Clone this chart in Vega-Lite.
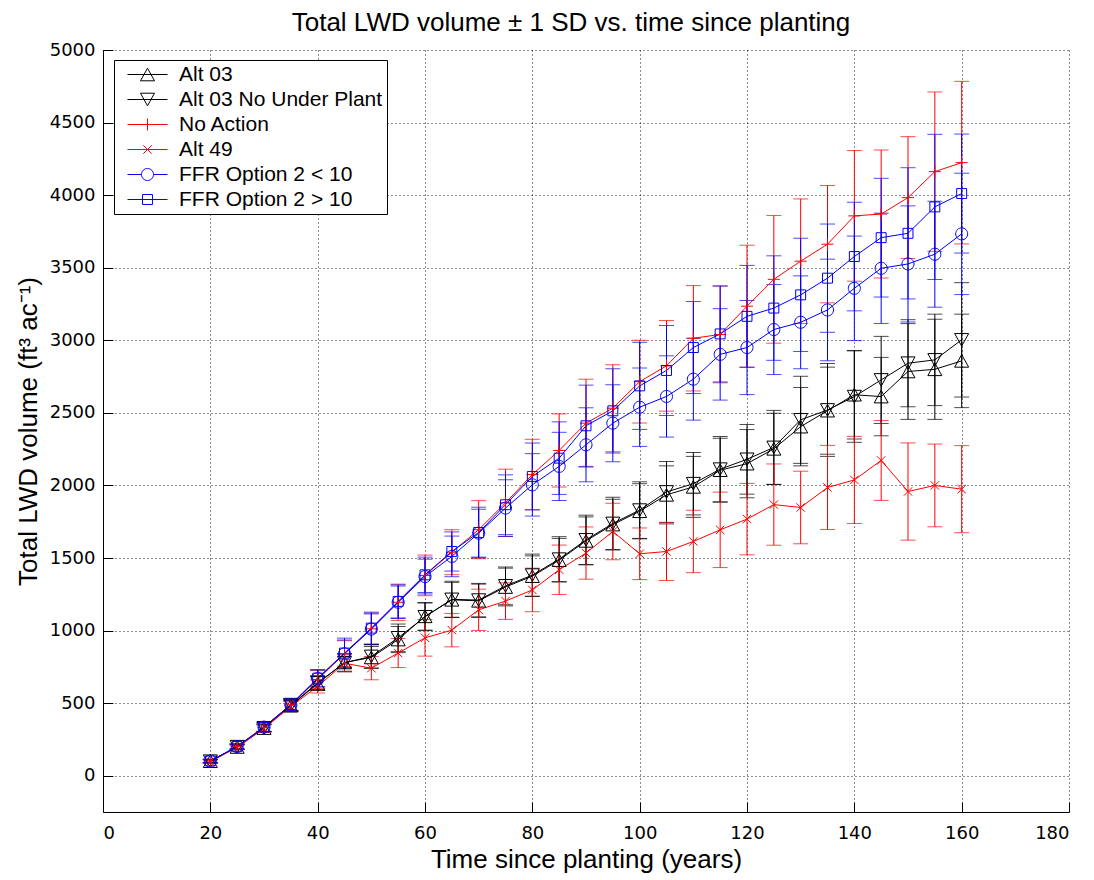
{
  "$schema": "https://vega.github.io/schema/vega-lite/v6.json",
  "width": 966,
  "height": 762,
  "autosize": "none",
  "padding": {"left": 103, "top": 50, "right": 25, "bottom": 68},
  "background": "white",
  "title": {"text": "Total LWD volume ± 1 SD vs. time since planting", "font": "Liberation Sans", "fontSize": 26, "fontWeight": "normal", "color": "black", "offset": 5, "dx": -15},
  "config": {
    "font": "Liberation Sans",
    "view": {"stroke": null},
    "axis": {
      "domainColor": "black", "domainWidth": 1,
      "tickColor": "black", "tickSize": -10, "tickWidth": 1,
      "labelFont": "DejaVu Sans", "labelFontSize": 18, "labelColor": "black",
      "titleFont": "Liberation Sans", "titleFontSize": 26, "titleFontWeight": "normal", "titleColor": "black",
      "grid": true, "gridColor": "black", "gridDash": [1, 3], "gridOpacity": 0.9, "gridWidth": 1
    },
    "legend": {"orient": "none", "legendX": 11, "legendY": 10, "title": null,
        "strokeColor": "black", "fillColor": "white", "padding": 4, "cornerRadius": 0,
        "labelFont": "Liberation Sans", "labelFontSize": 21, "labelColor": "black", "labelLimit": 0,
        "symbolSize": 196, "symbolStrokeWidth": 1, "symbolOpacity": 1,
        "rowPadding": 3, "labelOffset": 21, "symbolOffset": 19}
  },
  "data": {"values": [
    {"s":"Alt 03","x":20,"v":100,"sd":12},{"s":"Alt 03","x":25,"v":198,"sd":16},{"s":"Alt 03","x":30,"v":328,"sd":25},{"s":"Alt 03","x":35,"v":482,"sd":35},{"s":"Alt 03","x":40,"v":635,"sd":48},{"s":"Alt 03","x":45,"v":780,"sd":60},{"s":"Alt 03","x":50,"v":815,"sd":75},{"s":"Alt 03","x":55,"v":938,"sd":90},{"s":"Alt 03","x":60,"v":1098,"sd":95},{"s":"Alt 03","x":65,"v":1212,"sd":120},{"s":"Alt 03","x":70,"v":1205,"sd":115},{"s":"Alt 03","x":75,"v":1300,"sd":130},{"s":"Alt 03","x":80,"v":1375,"sd":140},{"s":"Alt 03","x":85,"v":1485,"sd":150},{"s":"Alt 03","x":90,"v":1618,"sd":165},{"s":"Alt 03","x":95,"v":1730,"sd":175},{"s":"Alt 03","x":100,"v":1822,"sd":190},{"s":"Alt 03","x":105,"v":1935,"sd":200},{"s":"Alt 03","x":110,"v":1990,"sd":210},{"s":"Alt 03","x":115,"v":2105,"sd":220},{"s":"Alt 03","x":120,"v":2150,"sd":235},{"s":"Alt 03","x":125,"v":2252,"sd":245},{"s":"Alt 03","x":130,"v":2405,"sd":270},{"s":"Alt 03","x":135,"v":2515,"sd":300},{"s":"Alt 03","x":140,"v":2625,"sd":305},{"s":"Alt 03","x":145,"v":2612,"sd":270},{"s":"Alt 03","x":150,"v":2785,"sd":330},{"s":"Alt 03","x":155,"v":2800,"sd":345},{"s":"Alt 03","x":160,"v":2858,"sd":322},
    {"s":"Alt 03 No Under Plant","x":20,"v":100,"sd":12},{"s":"Alt 03 No Under Plant","x":25,"v":200,"sd":16},{"s":"Alt 03 No Under Plant","x":30,"v":330,"sd":25},{"s":"Alt 03 No Under Plant","x":35,"v":485,"sd":36},{"s":"Alt 03 No Under Plant","x":40,"v":640,"sd":50},{"s":"Alt 03 No Under Plant","x":45,"v":778,"sd":62},{"s":"Alt 03 No Under Plant","x":50,"v":822,"sd":80},{"s":"Alt 03 No Under Plant","x":55,"v":950,"sd":95},{"s":"Alt 03 No Under Plant","x":60,"v":1095,"sd":95},{"s":"Alt 03 No Under Plant","x":65,"v":1215,"sd":125},{"s":"Alt 03 No Under Plant","x":70,"v":1210,"sd":115},{"s":"Alt 03 No Under Plant","x":75,"v":1308,"sd":130},{"s":"Alt 03 No Under Plant","x":80,"v":1382,"sd":145},{"s":"Alt 03 No Under Plant","x":85,"v":1492,"sd":155},{"s":"Alt 03 No Under Plant","x":90,"v":1625,"sd":170},{"s":"Alt 03 No Under Plant","x":95,"v":1738,"sd":180},{"s":"Alt 03 No Under Plant","x":100,"v":1830,"sd":195},{"s":"Alt 03 No Under Plant","x":105,"v":1955,"sd":210},{"s":"Alt 03 No Under Plant","x":110,"v":2012,"sd":215},{"s":"Alt 03 No Under Plant","x":115,"v":2112,"sd":225},{"s":"Alt 03 No Under Plant","x":120,"v":2180,"sd":240},{"s":"Alt 03 No Under Plant","x":125,"v":2262,"sd":255},{"s":"Alt 03 No Under Plant","x":130,"v":2452,"sd":300},{"s":"Alt 03 No Under Plant","x":135,"v":2520,"sd":320},{"s":"Alt 03 No Under Plant","x":140,"v":2612,"sd":315},{"s":"Alt 03 No Under Plant","x":145,"v":2727,"sd":300},{"s":"Alt 03 No Under Plant","x":150,"v":2842,"sd":300},{"s":"Alt 03 No Under Plant","x":155,"v":2865,"sd":315},{"s":"Alt 03 No Under Plant","x":160,"v":3003,"sd":394},
    {"s":"No Action","x":20,"v":100,"sd":12},{"s":"No Action","x":25,"v":200,"sd":18},{"s":"No Action","x":30,"v":332,"sd":30},{"s":"No Action","x":35,"v":487,"sd":42},{"s":"No Action","x":40,"v":662,"sd":62},{"s":"No Action","x":45,"v":842,"sd":88},{"s":"No Action","x":50,"v":1012,"sd":108},{"s":"No Action","x":55,"v":1195,"sd":125},{"s":"No Action","x":60,"v":1380,"sd":140},{"s":"No Action","x":65,"v":1540,"sd":155},{"s":"No Action","x":70,"v":1695,"sd":200},{"s":"No Action","x":75,"v":1880,"sd":232},{"s":"No Action","x":80,"v":2075,"sd":243},{"s":"No Action","x":85,"v":2241,"sd":252},{"s":"No Action","x":90,"v":2429,"sd":303},{"s":"No Action","x":95,"v":2532,"sd":300},{"s":"No Action","x":100,"v":2715,"sd":285},{"s":"No Action","x":105,"v":2824,"sd":312},{"s":"No Action","x":110,"v":3014,"sd":363},{"s":"No Action","x":115,"v":3040,"sd":333},{"s":"No Action","x":120,"v":3235,"sd":420},{"s":"No Action","x":125,"v":3420,"sd":440},{"s":"No Action","x":130,"v":3545,"sd":429},{"s":"No Action","x":135,"v":3662,"sd":404},{"s":"No Action","x":140,"v":3857,"sd":450},{"s":"No Action","x":145,"v":3870,"sd":441},{"s":"No Action","x":150,"v":3983,"sd":420},{"s":"No Action","x":155,"v":4162,"sd":549},{"s":"No Action","x":160,"v":4224,"sd":560},
    {"s":"Alt 49","x":20,"v":97,"sd":10},{"s":"Alt 49","x":25,"v":195,"sd":15},{"s":"Alt 49","x":30,"v":325,"sd":24},{"s":"Alt 49","x":35,"v":478,"sd":33},{"s":"Alt 49","x":40,"v":615,"sd":45},{"s":"Alt 49","x":45,"v":775,"sd":58},{"s":"Alt 49","x":50,"v":741,"sd":80},{"s":"Alt 49","x":55,"v":845,"sd":100},{"s":"Alt 49","x":60,"v":950,"sd":126},{"s":"Alt 49","x":65,"v":1003,"sd":115},{"s":"Alt 49","x":70,"v":1143,"sd":142},{"s":"Alt 49","x":75,"v":1203,"sd":126},{"s":"Alt 49","x":80,"v":1280,"sd":150},{"s":"Alt 49","x":85,"v":1419,"sd":170},{"s":"Alt 49","x":90,"v":1534,"sd":180},{"s":"Alt 49","x":95,"v":1683,"sd":195},{"s":"Alt 49","x":100,"v":1529,"sd":178},{"s":"Alt 49","x":105,"v":1545,"sd":200},{"s":"Alt 49","x":110,"v":1614,"sd":215},{"s":"Alt 49","x":115,"v":1694,"sd":260},{"s":"Alt 49","x":120,"v":1768,"sd":246},{"s":"Alt 49","x":125,"v":1868,"sd":280},{"s":"Alt 49","x":130,"v":1848,"sd":250},{"s":"Alt 49","x":135,"v":1986,"sd":290},{"s":"Alt 49","x":140,"v":2038,"sd":300},{"s":"Alt 49","x":145,"v":2172,"sd":275},{"s":"Alt 49","x":150,"v":1958,"sd":335},{"s":"Alt 49","x":155,"v":2000,"sd":285},{"s":"Alt 49","x":160,"v":1974,"sd":300},
    {"s":"FFR Option 2 < 10","x":20,"v":100,"sd":12},{"s":"FFR Option 2 < 10","x":25,"v":200,"sd":18},{"s":"FFR Option 2 < 10","x":30,"v":335,"sd":30},{"s":"FFR Option 2 < 10","x":35,"v":488,"sd":42},{"s":"FFR Option 2 < 10","x":40,"v":670,"sd":58},{"s":"FFR Option 2 < 10","x":45,"v":840,"sd":95},{"s":"FFR Option 2 < 10","x":50,"v":1010,"sd":105},{"s":"FFR Option 2 < 10","x":55,"v":1195,"sd":112},{"s":"FFR Option 2 < 10","x":60,"v":1372,"sd":120},{"s":"FFR Option 2 < 10","x":65,"v":1511,"sd":140},{"s":"FFR Option 2 < 10","x":70,"v":1671,"sd":165},{"s":"FFR Option 2 < 10","x":75,"v":1844,"sd":195},{"s":"FFR Option 2 < 10","x":80,"v":2004,"sd":215},{"s":"FFR Option 2 < 10","x":85,"v":2131,"sd":235},{"s":"FFR Option 2 < 10","x":90,"v":2280,"sd":255},{"s":"FFR Option 2 < 10","x":95,"v":2429,"sd":265},{"s":"FFR Option 2 < 10","x":100,"v":2539,"sd":270},{"s":"FFR Option 2 < 10","x":105,"v":2613,"sd":280},{"s":"FFR Option 2 < 10","x":110,"v":2732,"sd":282},{"s":"FFR Option 2 < 10","x":115,"v":2903,"sd":315},{"s":"FFR Option 2 < 10","x":120,"v":2950,"sd":324},{"s":"FFR Option 2 < 10","x":125,"v":3074,"sd":310},{"s":"FFR Option 2 < 10","x":130,"v":3124,"sd":320},{"s":"FFR Option 2 < 10","x":135,"v":3209,"sd":350},{"s":"FFR Option 2 < 10","x":140,"v":3358,"sd":360},{"s":"FFR Option 2 < 10","x":145,"v":3496,"sd":380},{"s":"FFR Option 2 < 10","x":150,"v":3526,"sd":400},{"s":"FFR Option 2 < 10","x":155,"v":3593,"sd":365},{"s":"FFR Option 2 < 10","x":160,"v":3733,"sd":418},
    {"s":"FFR Option 2 > 10","x":20,"v":102,"sd":12},{"s":"FFR Option 2 > 10","x":25,"v":202,"sd":18},{"s":"FFR Option 2 > 10","x":30,"v":336,"sd":30},{"s":"FFR Option 2 > 10","x":35,"v":490,"sd":44},{"s":"FFR Option 2 > 10","x":40,"v":672,"sd":60},{"s":"FFR Option 2 > 10","x":45,"v":845,"sd":103},{"s":"FFR Option 2 > 10","x":50,"v":1017,"sd":110},{"s":"FFR Option 2 > 10","x":55,"v":1201,"sd":114},{"s":"FFR Option 2 > 10","x":60,"v":1384,"sd":122},{"s":"FFR Option 2 > 10","x":65,"v":1545,"sd":135},{"s":"FFR Option 2 > 10","x":70,"v":1676,"sd":174},{"s":"FFR Option 2 > 10","x":75,"v":1867,"sd":206},{"s":"FFR Option 2 > 10","x":80,"v":2062,"sd":230},{"s":"FFR Option 2 > 10","x":85,"v":2188,"sd":250},{"s":"FFR Option 2 > 10","x":90,"v":2411,"sd":280},{"s":"FFR Option 2 > 10","x":95,"v":2514,"sd":290},{"s":"FFR Option 2 > 10","x":100,"v":2686,"sd":300},{"s":"FFR Option 2 > 10","x":105,"v":2792,"sd":310},{"s":"FFR Option 2 > 10","x":110,"v":2950,"sd":317},{"s":"FFR Option 2 > 10","x":115,"v":3044,"sd":331},{"s":"FFR Option 2 > 10","x":120,"v":3165,"sd":351},{"s":"FFR Option 2 > 10","x":125,"v":3222,"sd":360},{"s":"FFR Option 2 > 10","x":130,"v":3313,"sd":390},{"s":"FFR Option 2 > 10","x":135,"v":3428,"sd":373},{"s":"FFR Option 2 > 10","x":140,"v":3577,"sd":374},{"s":"FFR Option 2 > 10","x":145,"v":3707,"sd":409},{"s":"FFR Option 2 > 10","x":150,"v":3737,"sd":452},{"s":"FFR Option 2 > 10","x":155,"v":3919,"sd":500},{"s":"FFR Option 2 > 10","x":160,"v":4011,"sd":410}
  ]},
  "encoding": {
    "x": {"field": "x", "type": "quantitative",
      "scale": {"domain": [0, 180], "nice": false, "zero": false},
      "axis": {"values": [0,20,40,60,80,100,120,140,160,180], "format": "d", "title": "Time since planting (years)", "labelPadding": 22, "titlePadding": 4}},
    "y": {"field": "v", "type": "quantitative",
      "scale": {"domain": [-250, 5000], "nice": false, "zero": false},
      "axis": {"values": [0,500,1000,1500,2000,2500,3000,3500,4000,4500,5000], "format": "d", "title": "Total LWD volume (ft³ ac⁻¹)", "labelPadding": 18, "titlePadding": 8}}
  },
  "layer": [
    {"transform": [{"filter": "false"}],
     "mark": {"type": "point", "filled": false, "strokeWidth": 1},
     "encoding": {
       "color": {"field": "s", "type": "nominal", "title": null,
         "scale": {"domain": ["Alt 03","Alt 03 No Under Plant","No Action","Alt 49","FFR Option 2 < 10","FFR Option 2 > 10"],
                   "range": ["#000000","#000000","#ff0000","#ff0000","#0000ff","#0000ff"]}},
       "shape": {"field": "s", "type": "nominal", "title": null,
         "scale": {"domain": ["Alt 03","Alt 03 No Under Plant","No Action","Alt 49","FFR Option 2 < 10","FFR Option 2 > 10"],
                   "range": ["M-2.86,0L2.86,0M0,-0.9L1,0.9L-1,0.9Z","M-2.86,0L2.86,0M0,0.9L1,-0.9L-1,-0.9Z","M-2.86,0L2.86,0M0,-0.86L0,0.86","M-2.86,0L2.86,0M-0.6,-0.6L0.6,0.6M-0.6,0.6L0.6,-0.6","M-2.86,0L-0.86,0A0.86,0.86,0,1,1,0.86,0A0.86,0.86,0,1,1,-0.86,0M0.86,0L2.86,0","M-2.86,0L2.86,0M-0.71,-0.71L0.71,-0.71L0.71,0.71L-0.71,0.71Z"]}}}},
    {"mark": {"type": "errorbar", "ticks": {"size": 15}, "thickness": 1},
     "encoding": {"yError": {"field": "sd"},
       "color": {"field": "s", "type": "nominal", "legend": null,
         "scale": {"domain": ["Alt 03","Alt 03 No Under Plant","No Action","Alt 49","FFR Option 2 < 10","FFR Option 2 > 10"],
                   "range": ["#000000","#000000","#ff0000","#ff0000","#0000ff","#0000ff"]}}}},
    {"mark": {"type": "line", "strokeWidth": 1},
     "encoding": {
       "color": {"field": "s", "type": "nominal", "legend": null,
         "scale": {"domain": ["Alt 03","Alt 03 No Under Plant","No Action","Alt 49","FFR Option 2 < 10","FFR Option 2 > 10"],
                   "range": ["#000000","#000000","#ff0000","#ff0000","#0000ff","#0000ff"]}}}},
    {"mark": {"type": "point", "filled": false, "size": 196, "strokeWidth": 1, "opacity": 1},
     "encoding": {
       "color": {"field": "s", "type": "nominal", "legend": null,
         "scale": {"domain": ["Alt 03","Alt 03 No Under Plant","No Action","Alt 49","FFR Option 2 < 10","FFR Option 2 > 10"],
                   "range": ["#000000","#000000","#ff0000","#ff0000","#0000ff","#0000ff"]}},
       "shape": {"field": "s", "type": "nominal",
       "scale": {"domain": ["Alt 03","Alt 03 No Under Plant","No Action","Alt 49","FFR Option 2 < 10","FFR Option 2 > 10"],
                 "range": ["M0,-0.9L1,0.9L-1,0.9Z","M0,0.9L1,-0.9L-1,-0.9Z","M-0.86,0L0.86,0M0,-0.86L0,0.86","M-0.6,-0.6L0.6,0.6M-0.6,0.6L0.6,-0.6","M-0.86,0A0.86,0.86,0,1,1,0.86,0A0.86,0.86,0,1,1,-0.86,0Z","M-0.71,-0.71L0.71,-0.71L0.71,0.71L-0.71,0.71Z"]},
       "legend": null}}}
  ],
  "resolve": {"scale": {"shape": "independent", "color": "independent"}}
}
